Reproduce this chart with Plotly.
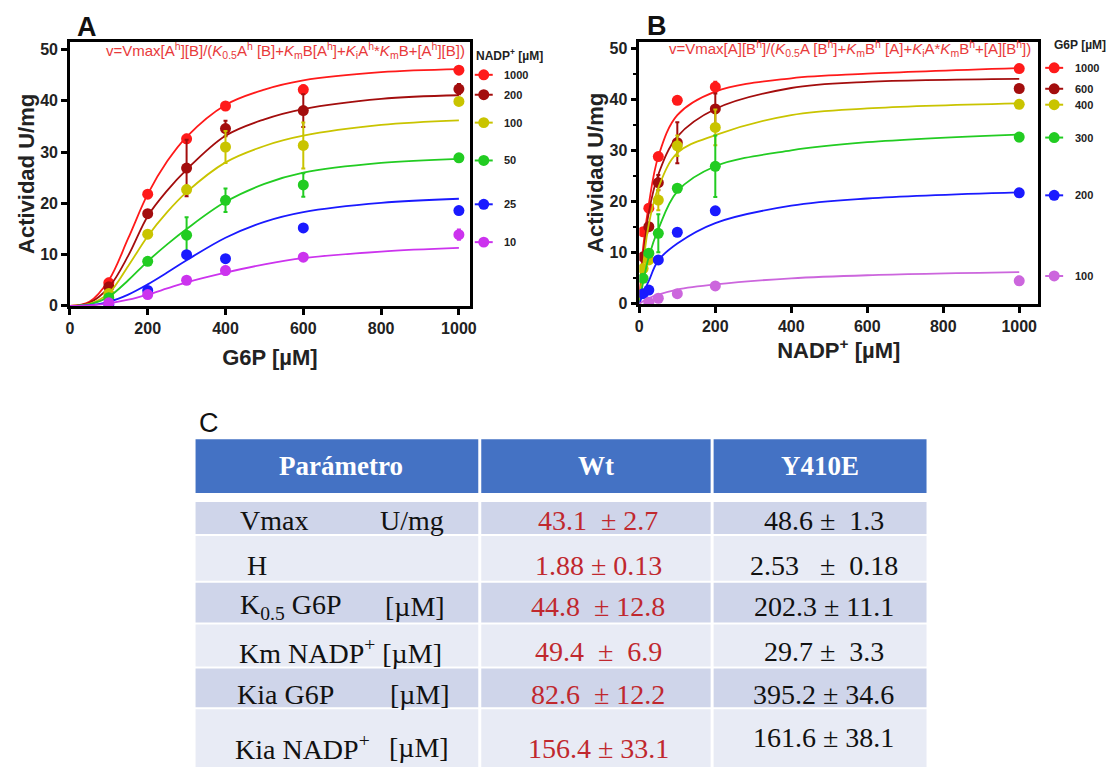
import plotly.graph_objects as go

W, H = 1117, 767
# the html page adds an 8px body margin; the photographed page (1125x775) is scaled to 1117x767
SX, SY = 1125 / 1117, 775 / 767
def px(x): return (x * SX - 8) / W
def py(y): return 1 - (y * SY - 8) / H

# ---------------- Panel A data (G6P varied, NADP+ fixed) ----------------
g6p_x = [100, 200, 300, 400, 600, 1000]
nadp_levels = ["1000", "200", "100", "50", "25", "10"]
a_vals = {
    "1000": [4.5, 21.8, 32.6, 39.0, 42.2, 46.0],
    "200":  [3.7, 18.0, 26.9, 34.6, 38.1, 42.3],
    "100":  [2.4, 14.0, 22.7, 31.0, 31.3, 39.9],
    "50":   [1.6, 8.7, 13.8, 20.6, 23.6, 28.9],
    "25":   [0.3, 3.0, 10.0, 9.2, 15.2, 18.6],
    "10":   [0.6, 2.2, 5.0, 6.9, 9.5, 13.9],
}
a_err = {
    "1000": [0.8, 0.5, 0.8, 0.5, 0.8, 0.5],
    "200":  [0.8, 0.6, 5.5, 1.5, 3.2, 1.0],
    "100":  [0.5, 0.5, 0.8, 3.1, 4.5, 0.6],
    "50":   [0.3, 0.4, 3.5, 2.3, 2.3, 0.7],
    "25":   [0.1, 0.3, 0.4, 0.4, 0.4, 0.4],
    "10":   [0.1, 0.3, 0.3, 0.8, 0.4, 1.0],
}
# fitted curves
a_curve_x = [0, 50, 100, 150, 200, 250, 300, 400, 500, 600, 800, 1000]
a_curve = {
    "1000": [0, 0.8, 5.0, 13.2, 21.8, 28.2, 33.0, 39.2, 42.2, 44.0, 45.6, 46.2],
    "200":  [0, 0.6, 3.6, 9.8, 17.5, 22.5, 26.6, 33.2, 36.4, 38.4, 40.4, 41.1],
    "100":  [0, 0.4, 2.5, 7.8, 13.6, 18.3, 22.2, 28.0, 31.2, 33.2, 35.3, 36.2],
    "50":   [0, 0.3, 1.8, 5.0, 8.7, 12.0, 15.0, 20.3, 23.8, 26.0, 27.9, 28.7],
    "25":   [0, 0.15, 0.8, 2.2, 4.2, 6.5, 8.9, 13.3, 16.4, 18.3, 20.1, 20.9],
    "10":   [0, 0.1, 0.5, 1.2, 2.2, 3.4, 4.6, 6.5, 8.1, 9.3, 10.6, 11.3],
}

# ---------------- Panel B data (NADP+ varied, G6P fixed) ----------------
nadp_x = [10, 25, 50, 100, 200, 1000]
g6p_levels = ["1000", "600", "400", "300", "200", "100"]
b_vals = {
    "1000": [14.1, 18.7, 28.8, 39.8, 42.4, 46.0],
    "600":  [9.2, 15.1, 23.7, 31.5, 38.1, 42.1],
    "400":  [6.9, 8.6, 20.3, 30.9, 34.5, 39.0],
    "300":  [5.0, 9.9, 13.8, 22.6, 26.9, 32.6],
    "200":  [2.0, 2.7, 8.6, 14.0, 18.2, 21.7],
    "100":  [None, 0.3, 1.1, 2.0, 3.5, 4.5],
}
b_err = {
    "1000": [0.5, 0.5, 0.5, 0.5, 1.0, 0.5],
    "600":  [0.5, 0.5, 1.5, 4.0, 3.0, 0.5],
    "400":  [0.5, 0.5, 2.0, 2.0, 3.5, 0.5],
    "300":  [0.5, 0.5, 3.7, 0.6, 6.0, 0.8],
    "200":  [0.3, 0.3, 0.3, 0.3, 0.3, 0.3],
    "100":  [0.3, 0.3, 0.3, 0.3, 0.5, 0.8],
}
b_curve_x = [0, 10, 25, 50, 100, 200, 400, 600, 1000]
b_curve = {
    "1000": [0, 11.0, 19.5, 28.8, 36.9, 41.5, 44.1, 45.0, 46.1],
    "600":  [0, 9.0, 17.9, 25.3, 32.7, 38.1, 42.2, 43.4, 44.0],
    "400":  [0, 7.5, 15.6, 22.7, 29.5, 33.0, 36.9, 38.2, 39.2],
    "300":  [0, 4.2, 9.2, 14.6, 22.0, 26.9, 30.0, 31.6, 33.1],
    "200":  [0, 2.0, 4.5, 8.5, 11.8, 15.8, 19.2, 20.6, 21.8],
    "100":  [0, 0.5, 1.1, 1.8, 2.8, 3.8, 5.0, 5.6, 6.2],
}

colors_a = ["#ff1a1a", "#a30d0d", "#c9c400", "#22cc22", "#1a1aff", "#cc33ee"]
colors_b = ["#ff1a1a", "#a30d0d", "#c9c400", "#22cc22", "#1a1aff", "#cc66dd"]

# ---------------- Table C data ----------------
col_headers = ["Parámetro", "Wt", "Y410E"]
param_names = ["Vmax", "H", "K<sub>0.5</sub> G6P", "Km NADP<sup>+</sup> [µM]", "Kia G6P", "Kia NADP<sup>+</sup>"]
param_units = ["U/mg", "", "[µM]", "", "[µM]", "[µM]"]
wt_text = ["43.1  ± 2.7", "1.88 ± 0.13", "44.8  ± 12.8", "49.4  ±  6.9", "82.6  ± 12.2", "156.4 ± 33.1"]
mut_text = ["48.6 ±  1.3", "2.53   ±  0.18", "202.3 ± 11.1", "29.7 ±  3.3", "395.2 ± 34.6", "161.6 ± 38.1"]

fig = go.Figure()

for i, lev in enumerate(nadp_levels):
    c = colors_a[i]
    fig.add_trace(go.Scatter(x=a_curve_x, y=a_curve[lev], mode="lines", line=dict(color=c, width=1.8, shape="spline"),
                             xaxis="x", yaxis="y", showlegend=False, hoverinfo="skip"))
    fig.add_trace(go.Scatter(x=g6p_x, y=a_vals[lev], mode="markers", marker=dict(color=c, size=11),
                             error_y=dict(type="data", array=a_err[lev], color=c, thickness=2, width=2),
                             xaxis="x", yaxis="y", showlegend=False, name=lev))

for i, lev in enumerate(g6p_levels):
    c = colors_b[i]
    fig.add_trace(go.Scatter(x=b_curve_x, y=b_curve[lev], mode="lines", line=dict(color=c, width=1.8, shape="spline"),
                             xaxis="x2", yaxis="y2", showlegend=False, hoverinfo="skip"))
    fig.add_trace(go.Scatter(x=nadp_x, y=b_vals[lev], mode="markers", marker=dict(color=c, size=11),
                             error_y=dict(type="data", array=b_err[lev], color=c, thickness=2, width=2),
                             xaxis="x2", yaxis="y2", showlegend=False, name=lev))

axis_common = dict(showline=True, linecolor="black", linewidth=2.5, mirror=True, ticks="outside",
                   ticklen=6, tickwidth=2.5, tickcolor="black", showgrid=False, zeroline=False,
                   tickfont=dict(family="Liberation Sans, Arial", size=16, color="#222", weight="bold"))
title_font = dict(family="Liberation Sans, Arial", size=22, color="#222", weight="bold")

fig.update_layout(
    width=W, height=H, margin=dict(l=0, r=0, t=0, b=0),
    paper_bgcolor="white", plot_bgcolor="white",
    xaxis=dict(domain=[px(66), px(467)], range=[0, 1028], tickvals=[0, 200, 400, 600, 800, 1000],
               title=dict(text="G6P [µM]", font=title_font, standoff=14), anchor="y", **axis_common),
    yaxis=dict(domain=[py(305), py(40)], range=[0, 51.5], tickvals=[0, 10, 20, 30, 40, 50],
               title=dict(text="Actividad U/mg", font=title_font, standoff=0), anchor="x", **axis_common),
    xaxis2=dict(domain=[px(637), px(1037)], range=[0, 1050], tickvals=[0, 200, 400, 600, 800, 1000],
                title=dict(text="NADP<sup>+</sup> [µM]", font=title_font, standoff=9), anchor="y2", **axis_common),
    yaxis2=dict(domain=[py(303), py(40)], range=[0, 51.2], tickvals=[0, 10, 20, 30, 40, 50],
                minor=dict(dtick=5, ticklen=4, tickwidth=2, tickcolor="black", ticks="outside"),
                title=dict(text="Actividad U/mg", font=title_font, standoff=0), anchor="x2", **axis_common),
)

ann = []
shapes = []

def text(x, y, t, font, xanchor="center", yanchor="middle"):
    ann.append(dict(x=px(x), y=py(y), text=t, font=font, showarrow=False, xref="paper", yref="paper",
                    xanchor=xanchor, yanchor=yanchor))

# panel letters
letter_font = dict(family="Liberation Sans, Arial", size=27, color="#111", weight="bold")
text(83, 8, "A", letter_font, yanchor="top")
text(655, 7, "B", letter_font, yanchor="top")
text(205, 423, "C", dict(family="Liberation Sans, Arial", size=27, color="#111"))

eq_font = dict(family="Liberation Sans, Arial", size=15, color="#e8393a")
text(282, 49,
     "v=Vmax[A<sup>h</sup>][B]/(<i>K</i><sub>0.5</sub>A<sup>h</sup> [B]+<i>K</i><sub>m</sub>B[A<sup>h</sup>]+<i>K</i><sub>i</sub>A<sup>h</sup>*<i>K</i><sub>m</sub>B+[A<sup>h</sup>][B])",
     eq_font)
text(848, 47,
     "v=Vmax[A][B<sup>h</sup>]/(<i>K</i><sub>0.5</sub>A [B<sup>h</sup>]+<i>K</i><sub>m</sub>B<sup>h</sup> [A]+<i>K</i><sub>i</sub>A*<i>K</i><sub>m</sub>B<sup>h</sup>+[A][B<sup>h</sup>])",
     eq_font)

# custom legends
leg_font = dict(family="Liberation Sans, Arial", size=11, color="#222", weight="bold")
leg_title_font = dict(family="Liberation Sans, Arial", size=12, color="#222", weight="bold")
def legend(title, title_x, title_y, cx, lx, ys, labels, cols):
    text(title_x, title_y, title, leg_title_font, xanchor="left")
    for yy, lab, c in zip(ys, labels, cols):
        shapes.append(dict(type="line", xref="paper", yref="paper", x0=px(cx - 9), x1=px(cx + 9), y0=py(yy), y1=py(yy),
                           line=dict(color=c, width=2)))
        shapes.append(dict(type="circle", xref="paper", yref="paper", x0=px(cx - 5.5), x1=px(cx + 5.5),
                           y0=py(yy + 5.5), y1=py(yy - 5.5), fillcolor=c, line=dict(color=c, width=0)))
        text(lx, yy, lab, leg_font, xanchor="left")

legend("NADP<sup>+</sup> [µM]", 471, 53, 481, 499, [73, 93, 121, 159, 203, 241], nadp_levels, colors_a)
legend("G6P [µM]", 1051, 43, 1053, 1072, [66, 87, 103, 136, 194, 275], g6p_levels, colors_b)

# ---------------- Table C ----------------
col_edges = [192, 477, 710, 925]
header_y = (439, 493)
row_bounds = [(502, 534), (536, 581), (583, 623), (625, 667), (669, 708), (710, 800)]
row_fill = ["#cfd5ea", "#e8ebf5", "#cfd5ea", "#e8ebf5", "#cfd5ea", "#e8ebf5"]

for j in range(3):
    x0 = col_edges[j] + (0 if j == 0 else 1.5)
    x1 = col_edges[j + 1] - (0 if j == 2 else 1.5)
    shapes.append(dict(type="rect", xref="paper", yref="paper", x0=px(x0), x1=px(x1),
                       y0=py(header_y[1]), y1=py(header_y[0]), fillcolor="#4472c4", line=dict(width=0), layer="below"))
    for r, (y0, y1) in enumerate(row_bounds):
        shapes.append(dict(type="rect", xref="paper", yref="paper", x0=px(x0), x1=px(x1),
                           y0=py(y1), y1=py(y0), fillcolor=row_fill[r], line=dict(width=0), layer="below"))

hdr_font = dict(family="Liberation Serif, Times New Roman", size=27, color="white", weight="bold")
hdr_x = [338, 594, 818]
for j, htxt in enumerate(col_headers):
    text(hdr_x[j], 466, htxt, hdr_font)

cell_font = dict(family="Liberation Serif, Times New Roman", size=28, color="#111")
wt_font = dict(family="Liberation Serif, Times New Roman", size=28, color="#c0282e")
label_x = [235, 242, 235, 234, 232, 230]
unit_x = [375, 0, 380, 0, 385, 384]
label_y = [521, 566, 607, 652, 695, 748]
wt_y = [521, 566, 607, 652, 695, 749]
mut_y = [521, 566, 607, 652, 695, 738]
for r in range(6):
    text(label_x[r], label_y[r], param_names[r], cell_font, xanchor="left")
    if param_units[r]:
        text(unit_x[r], label_y[r], param_units[r], cell_font, xanchor="left")
    text(596, wt_y[r], wt_text[r].replace("  ", "&nbsp; "), wt_font)
    text(822, mut_y[r], mut_text[r].replace("  ", "&nbsp; "), cell_font)

fig.update_layout(annotations=ann, shapes=shapes)
fig.write_html("out.html")
